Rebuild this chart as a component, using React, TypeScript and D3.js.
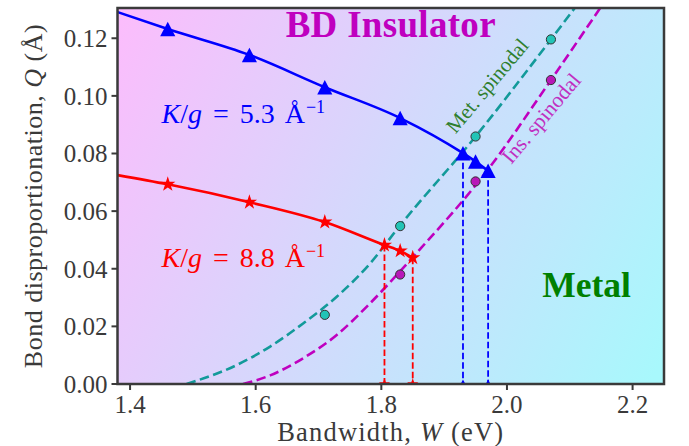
import React from "react";
import * as d3 from "d3";

// K/g = 5.3 (blue triangles)
const blueW = [1.46, 1.59, 1.71, 1.83, 1.93, 1.95, 1.97];
const blueQ = [0.1232, 0.1142, 0.103, 0.0923, 0.0801, 0.0772, 0.074];
const blueCurveW = [1.38, 1.46, 1.59, 1.71, 1.83, 1.93, 1.95, 1.97];
const blueCurveQ = [0.1291, 0.1232, 0.1142, 0.103, 0.0923, 0.0801, 0.0772, 0.074];
const blueDropIdx = [4, 6];

// K/g = 8.8 (red stars)
const redW = [1.46, 1.59, 1.71, 1.805, 1.83, 1.85];
const redQ = [0.0693, 0.0631, 0.0562, 0.0482, 0.0462, 0.0438];
const redCurveW = [1.38, 1.46, 1.59, 1.71, 1.805, 1.83, 1.85];
const redCurveQ = [0.0725, 0.0693, 0.0631, 0.0562, 0.0482, 0.0462, 0.0438];
const redDropIdx = [3, 5];

// spinodal fits
const metW = [1.49, 1.57, 1.623, 1.676, 1.729, 1.782, 1.829, 1.95, 2.07, 2.12];
const metQ = [0, 0.0066, 0.013, 0.0211, 0.0303, 0.0418, 0.0548, 0.0859, 0.1196, 0.134];
const insW = [1.58, 1.623, 1.676, 1.729, 1.782, 1.85, 1.97, 2.07, 2.15];
const insQ = [0, 0.003, 0.009, 0.017, 0.028, 0.044, 0.0745, 0.1055, 0.131];

// spinodal points
const metPtW = [1.71, 1.83, 1.95, 2.07];
const metPtQ = [0.024, 0.0548, 0.0859, 0.1196];
const insPtW = [1.83, 1.95, 2.07];
const insPtQ = [0.038, 0.0703, 0.1055];

const xTicks = [1.4, 1.6, 1.8, 2.0, 2.2];
const yTicks = [0, 0.02, 0.04, 0.06, 0.08, 0.1, 0.12];

const W = 689;
const H = 446;
const m = { left: 117.5, right: 25, top: 8, bottom: 62 };
const font = "Liberation Serif, DejaVu Serif, serif";
const axisColor = "#3a3a3a";

function KgLabel({ x, y, color, value }: { x: number; y: number; color: string; value: string }) {
  return (
    <text x={x} y={y} fontFamily={font} fontSize={28} fill={color}>
      <tspan fontStyle="italic">K</tspan>
      <tspan>/</tspan>
      <tspan fontStyle="italic">g</tspan>
      <tspan dx={11}>=</tspan>
      <tspan dx={11}>{value}</tspan>
      <tspan dx={10}>Å</tspan>
      <tspan dx={1} dy={-10} fontSize={18}>−1</tspan>
    </text>
  );
}

export default function App() {
  const x = d3.scaleLinear().domain([1.38, 2.25]).range([m.left, W - m.right]);
  const y = d3.scaleLinear().domain([0, 0.1305]).range([H - m.bottom, m.top]);

  const line = d3
    .line<[number, number]>()
    .x((d) => x(d[0]))
    .y((d) => y(d[1]))
    .curve(d3.curveMonotoneX);

  const zip = (a: number[], b: number[]) => a.map((v, i) => [v, b[i]] as [number, number]);

  const tri = (s: number) => `M0,${-s}L${s * 1.05},${s}L${-s * 1.05},${s}Z`;
  const star = d3.symbol(d3.symbolStar, 72)();
  const starSmall = d3.symbol(d3.symbolStar, 40)();

  const x0 = x.range()[0];
  const x1 = x.range()[1];
  const y0 = y.range()[0];
  const y1 = y.range()[1];

  return (
    <svg width={W} height={H} style={{ position: "absolute", left: 0, top: 0 }}>
      <defs>
        <linearGradient id="bg" x1="0" y1="0" x2="1.18" y2="0.415">
          <stop offset="0" stopColor="#fcbcfc" />
          <stop offset="1" stopColor="#a8f8fc" />
        </linearGradient>
        <clipPath id="plot">
          <rect x={x0} y={y1} width={x1 - x0} height={y0 - y1} />
        </clipPath>
      </defs>
      <rect x={x0} y={y1} width={x1 - x0} height={y0 - y1} fill="url(#bg)" />

      <g clipPath="url(#plot)">
        <path d={line(zip(metW, metQ)) || ""} fill="none" stroke="#139a9a" strokeWidth={2.6} strokeDasharray="9.5,4.5" />
        <path d={line(zip(insW, insQ)) || ""} fill="none" stroke="#bf00bf" strokeWidth={2.6} strokeDasharray="9.5,4.5" />

        {metPtW.map((w, i) => (
          <circle key={"mc" + i} cx={x(w)} cy={y(metPtQ[i])} r={4.6} fill="#22c4b6" stroke="#333" strokeWidth={1} />
        ))}
        {insPtW.map((w, i) => (
          <circle key={"ic" + i} cx={x(w)} cy={y(insPtQ[i])} r={4.6} fill="#b818b8" stroke="#333" strokeWidth={1} />
        ))}

        {redDropIdx.map((k) => (
          <g key={"rd" + k}>
            <line x1={x(redW[k])} x2={x(redW[k])} y1={y(redQ[k])} y2={y(0)} stroke="#ff0000" strokeWidth={1.8} strokeDasharray="6.5,3" />
            <path d={starSmall || ""} transform={`translate(${x(redW[k])},${y(0)})`} fill="#ff0000" />
          </g>
        ))}
        {blueDropIdx.map((k) => (
          <g key={"bd" + k}>
            <line x1={x(blueW[k])} x2={x(blueW[k])} y1={y(blueQ[k])} y2={y(0)} stroke="#0000ff" strokeWidth={1.8} strokeDasharray="6.5,3" />
            <path d={tri(4.5)} transform={`translate(${x(blueW[k])},${y(0)})`} fill="#0000ff" />
          </g>
        ))}

        <path d={line(zip(blueCurveW, blueCurveQ)) || ""} fill="none" stroke="#0000ff" strokeWidth={2.6} />
        <path d={line(zip(redCurveW, redCurveQ)) || ""} fill="none" stroke="#ff0000" strokeWidth={2.6} />

        {blueW.map((w, i) => (
          <path key={"bt" + i} d={tri(7.2)} transform={`translate(${x(w)},${y(blueQ[i])})`} fill="#0000ff" />
        ))}
        {redW.map((w, i) => (
          <path key={"rs" + i} d={star || ""} transform={`translate(${x(w)},${y(redQ[i])})`} fill="#ff0000" />
        ))}
      </g>

      {/* annotations */}
      <text x={(x0 + x1) / 2} y={y(0.1205)} textAnchor="middle" fontFamily={font} fontWeight="bold" fontSize={37} letterSpacing={0.3} fill="#bf00bf">
        BD Insulator
      </text>
      <text x={x(2.056)} y={y(0.0302)} fontFamily={font} fontWeight="bold" fontSize={35.5} fill="#008000">
        Metal
      </text>
      <text transform={`translate(${x(1.918)},${y(0.0866)}) rotate(-50)`} fontFamily={font} fontSize={21} fill="#2f7f2f">
        Met. spinodal
      </text>
      <text transform={`translate(${x(2.007)},${y(0.076)}) rotate(-50)`} fontFamily={font} fontSize={21.5} fill="#c030c0">
        Ins. spinodal
      </text>
      <KgLabel x={x(1.45)} y={y(0.0906)} color="#0000ff" value="5.3" />
      <KgLabel x={x(1.45)} y={y(0.0407)} color="#ff0000" value="8.8" />

      {/* axes */}
      {xTicks.map((t) => (
        <g key={"xt" + t}>
          <line x1={x(t)} x2={x(t)} y1={y0} y2={y0 + 6} stroke={axisColor} strokeWidth={2} />
          <text x={x(t)} y={y0 + 29} textAnchor="middle" fontFamily={font} fontSize={25} fill={axisColor}>
            {d3.format(".1f")(t)}
          </text>
        </g>
      ))}
      {yTicks.map((t) => (
        <g key={"yt" + t}>
          <line x1={x0 - 6} x2={x0} y1={y(t)} y2={y(t)} stroke={axisColor} strokeWidth={2} />
          <text x={x0 - 10} y={y(t)} dy="0.35em" textAnchor="end" fontFamily={font} fontSize={25} fill={axisColor}>
            {d3.format(".2f")(t)}
          </text>
        </g>
      ))}
      <rect x={x0} y={y1} width={x1 - x0} height={y0 - y1} fill="none" stroke={axisColor} strokeWidth={2.5} />

      <text x={(x0 + x1) / 2} y={H - 5} textAnchor="middle" fontFamily={font} fontSize={26.5} letterSpacing={1.2} fill={axisColor}>
        Bandwidth, <tspan fontStyle="italic">W</tspan> (eV)
      </text>
      <text transform={`translate(42,${(y0 + y1) / 2}) rotate(-90)`} textAnchor="middle" fontFamily={font} fontSize={26} letterSpacing={0.5} fill={axisColor}>
        Bond disproportionation, <tspan fontStyle="italic">Q</tspan> (Å)
      </text>
    </svg>
  );
}
